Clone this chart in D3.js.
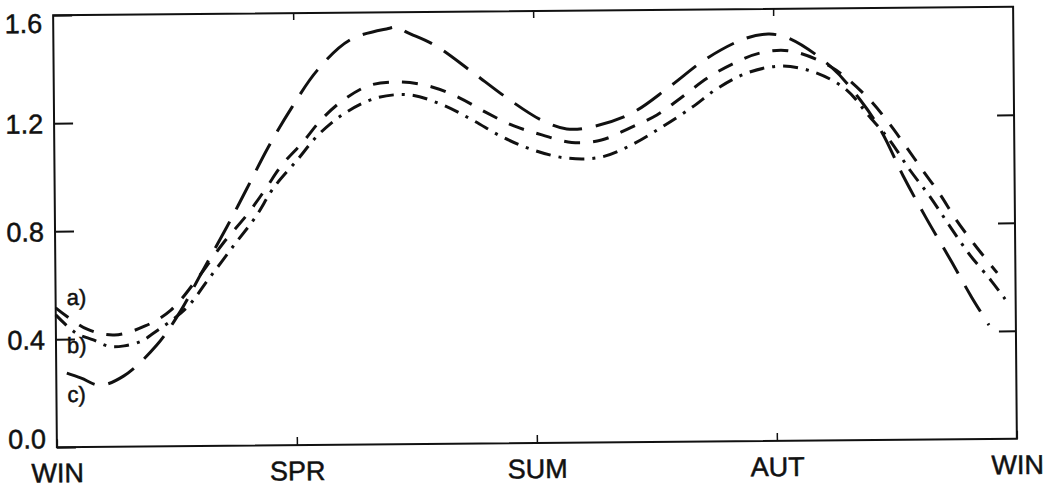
<!DOCTYPE html>
<html>
<head>
<meta charset="utf-8">
<script src="https://cdn.jsdelivr.net/npm/d3@7/dist/d3.min.js"></script>
<style>
  html, body { margin: 0; padding: 0; background: #fff; }
  svg { display: block; }
  text { font-family: "Liberation Sans", Arial, Helvetica, sans-serif; fill: #111; stroke: #111; stroke-width: 0.5px; }
</style>
</head>
<body>
<svg id="chart" width="1048" height="489"></svg>
<script>
// ---------- data ----------
const seasonLabels = ["WIN", "SPR", "SUM", "AUT", "WIN"];
const seasonTicks = [0, 0.25, 0.5, 0.75, 1];
const yTickValues = [0.0, 0.4, 0.8, 1.2, 1.6];
const innerYTicks = [0.4, 0.8, 1.2];
const innerXTicks = [0.25, 0.5, 0.75];
const curveNames = ["a)", "b)", "c)"];

// a) medium dash
const phaseA = [0.000, 0.032, 0.061, 0.093, 0.120, 0.150, 0.175, 0.200, 0.219, 0.237, 0.259, 0.279, 0.303, 0.330, 0.363, 0.394, 0.423, 0.451, 0.479, 0.508, 0.539, 0.570, 0.600, 0.628, 0.653, 0.681, 0.707, 0.736, 0.767, 0.810, 0.847, 0.868, 0.886, 0.904, 0.922, 0.939, 0.958, 0.981];
const valueA = [0.516, 0.437, 0.414, 0.446, 0.504, 0.630, 0.750, 0.854, 0.946, 1.038, 1.122, 1.207, 1.280, 1.331, 1.341, 1.322, 1.280, 1.224, 1.175, 1.141, 1.112, 1.120, 1.164, 1.211, 1.273, 1.346, 1.397, 1.437, 1.444, 1.383, 1.271, 1.181, 1.092, 0.999, 0.909, 0.812, 0.719, 0.615];

// b) dash-dot
const phaseB = [0.000, 0.021, 0.039, 0.055, 0.071, 0.089, 0.100, 0.136, 0.160, 0.188, 0.209, 0.228, 0.253, 0.275, 0.303, 0.336, 0.371, 0.405, 0.436, 0.467, 0.499, 0.534, 0.570, 0.603, 0.633, 0.665, 0.692, 0.725, 0.760, 0.795, 0.826, 0.848, 0.870, 0.891, 0.912, 0.932, 0.952, 0.975, 0.989];
const valueB = [0.490, 0.422, 0.396, 0.372, 0.373, 0.390, 0.415, 0.511, 0.620, 0.750, 0.846, 0.953, 1.056, 1.148, 1.228, 1.283, 1.293, 1.255, 1.198, 1.134, 1.085, 1.054, 1.057, 1.104, 1.166, 1.239, 1.309, 1.367, 1.388, 1.361, 1.297, 1.204, 1.111, 0.999, 0.898, 0.790, 0.686, 0.585, 0.518];

// c) long dash
const phaseC = [0.011, 0.026, 0.045, 0.070, 0.105, 0.130, 0.151, 0.179, 0.200, 0.223, 0.248, 0.275, 0.309, 0.349, 0.359, 0.368, 0.397, 0.436, 0.475, 0.508, 0.534, 0.560, 0.602, 0.641, 0.681, 0.722, 0.746, 0.768, 0.810, 0.840, 0.862, 0.884, 0.907, 0.932, 0.954, 0.972];
const valueC = [0.274, 0.255, 0.228, 0.261, 0.375, 0.500, 0.633, 0.810, 0.950, 1.105, 1.252, 1.389, 1.499, 1.540, 1.545, 1.526, 1.477, 1.376, 1.271, 1.195, 1.162, 1.169, 1.219, 1.314, 1.420, 1.493, 1.507, 1.488, 1.383, 1.260, 1.141, 0.977, 0.824, 0.668, 0.527, 0.422];

// ---------- layout ----------
const mLeft = 55, mRight = 1015, mTop = 11, mBottom = 443;
const svg = d3.select("#chart");
const g = svg.append("g").attr("transform", "rotate(-0.5, 535, 227)");

const x = d3.scaleLinear().domain([0, 1]).range([mLeft, mRight]);
const y = d3.scaleLinear().domain([0, 1.6]).range([mBottom, mTop]);

// frame
g.append("rect")
  .attr("x", mLeft).attr("y", mTop)
  .attr("width", mRight - mLeft).attr("height", mBottom - mTop)
  .attr("fill", "none").attr("stroke", "#111").attr("stroke-width", 2);

// left axis (labels + inward ticks)
const leftAxis = g.append("g").attr("transform", `translate(${mLeft},0)`)
  .call(d3.axisLeft(y).tickValues(yTickValues).tickSize(-19).tickPadding(11)
        .tickFormat(d3.format(".1f")));
leftAxis.select(".domain").remove();
leftAxis.selectAll(".tick line").attr("stroke", "#111").attr("stroke-width", 2);
leftAxis.selectAll(".tick text")
  .attr("font-size", 27)
  .attr("dy", null)
  .attr("y", d => {
    const cy = Math.min(Math.max(y(d), mTop + 7.5), mBottom - 9);
    return cy - y(d) + 9.6;
  });

// right axis ticks
const rightAxis = g.append("g").attr("transform", `translate(${mRight},0)`)
  .call(d3.axisRight(y).tickValues(innerYTicks).tickSize(-17).tickFormat(""));
rightAxis.select(".domain").remove();
rightAxis.selectAll(".tick line").attr("stroke", "#111").attr("stroke-width", 2);

// top axis ticks
const topAxis = g.append("g").attr("transform", `translate(0,${mTop})`)
  .call(d3.axisTop(x).tickValues(innerXTicks).tickSize(-7).tickFormat(""));
topAxis.select(".domain").remove();
topAxis.selectAll(".tick line").attr("stroke", "#111").attr("stroke-width", 1.5);

// bottom axis (season labels + inward ticks)
const bottomAxis = g.append("g").attr("transform", `translate(0,${mBottom})`)
  .call(d3.axisBottom(x).tickValues(seasonTicks).tickSize(-8).tickPadding(16)
        .tickFormat((d, i) => seasonLabels[i]));
bottomAxis.select(".domain").remove();
bottomAxis.selectAll(".tick line").attr("stroke", "#111").attr("stroke-width", 1.5);
bottomAxis.selectAll(".tick text").attr("font-size", 27);

// curves
const line = d3.line()
  .x(d => x(d[0])).y(d => y(d[1]))
  .curve(d3.curveCatmullRom.alpha(0.5));

const series = [
  { name: curveNames[0], phase: phaseA, value: valueA, dash: "16,13" },
  { name: curveNames[1], phase: phaseB, value: valueB, dash: "15,8,3,8" },
  { name: curveNames[2], phase: phaseC, value: valueC, dash: "30,14" }
];

g.selectAll("path.curve")
  .data(series)
  .join("path")
  .attr("class", "curve")
  .attr("d", s => line(s.phase.map((p, i) => [p, s.value[i]])))
  .attr("fill", "none")
  .attr("stroke", "#111")
  .attr("stroke-width", 3)
  .attr("stroke-dasharray", s => s.dash);

// curve labels
const labelY = [301, 349, 398];
g.selectAll("text.clabel")
  .data(curveNames)
  .join("text")
  .attr("class", "clabel")
  .attr("x", mLeft + 11)
  .attr("y", (d, i) => labelY[i])
  .attr("font-size", 22)
  .text(d => d);
</script>
</body>
</html>
